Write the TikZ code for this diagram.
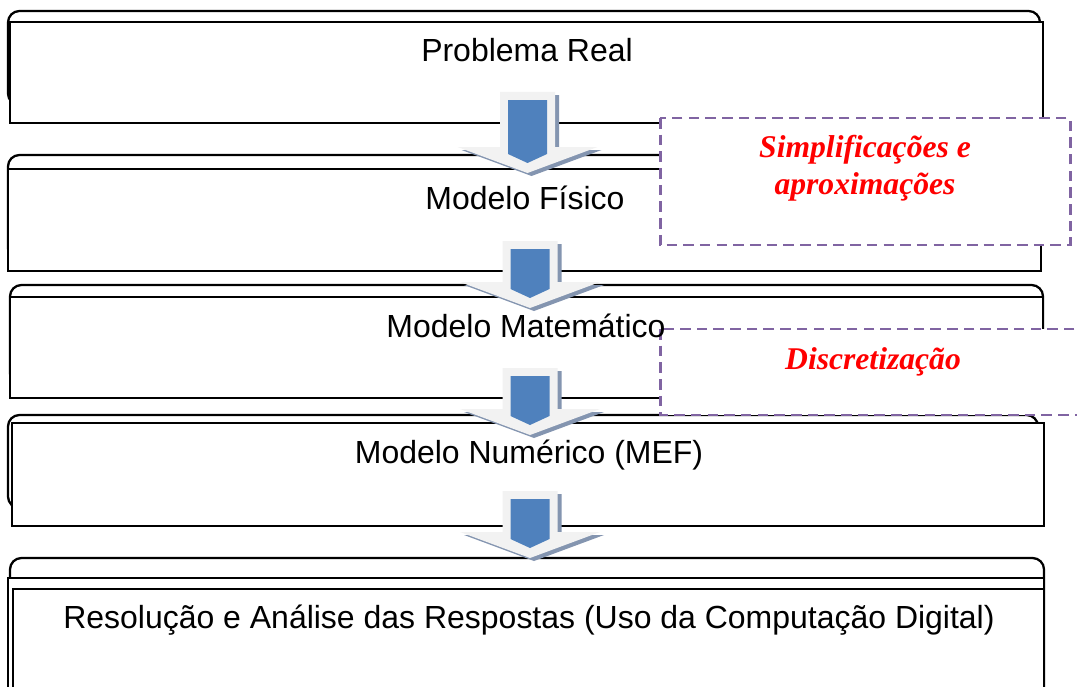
\documentclass[tikz,border=0pt]{standalone}
\usepackage{fontspec}
\setmainfont{Liberation Sans}
\newfontfamily\notefont{Liberation Serif}
\usetikzlibrary{calc}
\definecolor{cBlue}{HTML}{4F81BD}
\definecolor{cPale}{HTML}{F2F2F2}
\definecolor{cShade}{HTML}{8495B0}
\definecolor{cPurple}{HTML}{8064A2}
\definecolor{cRed}{HTML}{FF0000}
\tikzset{
  backbox/.style={draw=black,fill=white,line width=1.3pt,rounded corners=6.5pt},
  frontbox/.style={draw=black,fill=white,line width=1.3pt},
  btxt/.style={font=\fontsize{18.2}{21}\selectfont,inner sep=0pt},
  notebox/.style={draw=cPurple,fill=white,line width=1.7pt,dash pattern=on 6pt off 3.5pt},
  ntxt/.style={font=\notefont\bfseries\itshape\fontsize{18}{21}\selectfont,text=cRed,align=center,inner sep=0pt},
  pics/flowarrow/.style={code={
    \fill[cShade] (-23.5,3) -- (31.5,3) -- (31.5,#1-23) -- (74,#1-23) -- (4,#1+3) -- (-66,#1-23) -- (-23.5,#1-23) -- cycle;
    \fill[cPale] (-27.5,0) -- (27.5,0) -- (27.5,#1-26) -- (70,#1-26) -- (0,#1) -- (-70,#1-26) -- (-27.5,#1-26) -- cycle;
    \fill[cBlue] (-19.5,8) -- (19.5,8) -- (19.5,#1-19) -- (0,#1-10) -- (-19.5,#1-19) -- cycle;
  }},
}
\begin{document}
\begin{tikzpicture}[x=0.02cm,y=-0.02cm]
  \useasboundingbox (0,0) rectangle (1077,686);
  \clip (0,0) rectangle (1077,686);
  % stacked boxes: back (rounded) then front
  \foreach \bl/\bt/\br/\bb/\fl/\ft/\fr/\fb in {8/11/1040/105/10/22/1043/123, 8/155/1040/260/8/169/1041/271,
      10/285/1043/385/10/297/1043/398, 8/415/1038/508/12/423/1044/526}{
    \draw[backbox] (\bl,\bt) rectangle (\br,\bb);
    \draw[frontbox] (\fl,\ft) rectangle (\fr,\fb);
  }
  \draw[backbox] (10,558) rectangle (1044,720);
  \draw[frontbox] (8,578) rectangle (1044,720);
  \draw[frontbox] (13,589) rectangle (1044,720);
  % block arrows between the levels
  \coordinate (a1) at (527.5,92);
  \coordinate (a2) at (530,241);
  \coordinate (a3) at (530,368);
  \coordinate (a4) at (530,491);
  \pic at (a1) {flowarrow=81};
  \foreach \a in {a2,a3,a4} \pic at (\a) {flowarrow=67};
  % side notes
  \draw[notebox] (660,118) rectangle (1070,245);
  \draw[notebox] (660,329) rectangle (1090,415);
  \node[ntxt] (simp) at (865,168) {Simplificações e\\aproximações};
  \node[ntxt] (disc) at (873,362) {Discretização};
  \node[btxt] (real) at (527,50) {Problema Real};
  \node[btxt] (fisico) at (525,198) {Modelo Físico};
  \node[btxt] (matematico) at (526,326) {Modelo Matemático};
  \node[btxt] (numerico) at (529,455) {Modelo Numérico (MEF)};
  \node[btxt] (resolucao) at (529,620) {Resolução e Análise das Respostas (Uso da Computação Digital)};
\end{tikzpicture}
\end{document}
